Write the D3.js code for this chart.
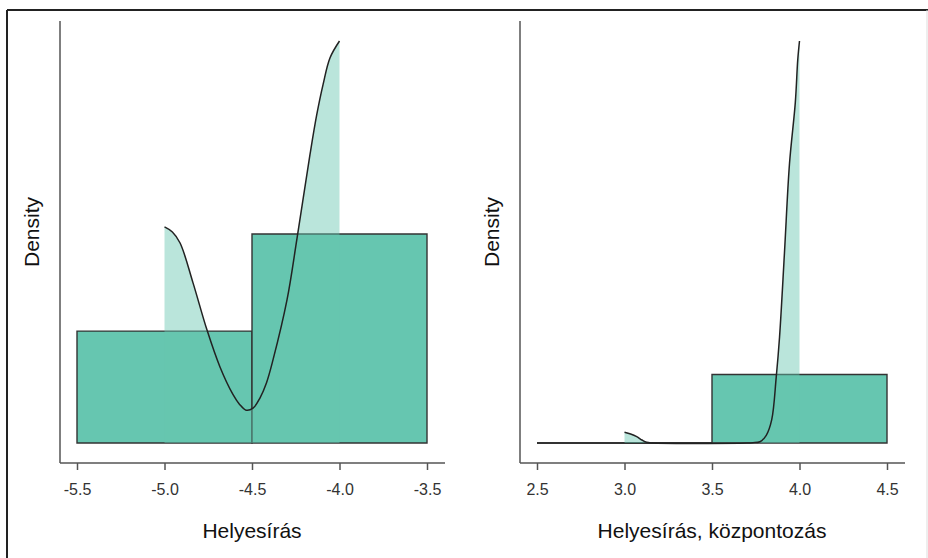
<!DOCTYPE html>
<html>
<head>
<meta charset="utf-8">
<script src="https://cdn.jsdelivr.net/npm/d3@7"></script>
<style>
  body { margin: 0; background: #fff; }
  svg { display: block; font-family: "Liberation Sans", Arial, sans-serif; }
</style>
</head>
<body>
<div id="chart-area"></div>
<script>
// data
const leftTicks = [-5.5, -5.0, -4.5, -4.0, -3.5]
const leftBinEdges = [-5.5, -4.5, -3.5]
const leftHist = [0.334, 0.624]
const leftCurveX = [-5.0, -4.955, -4.911, -4.837, -4.757, -4.683, -4.609, -4.572, -4.534, -4.494, -4.454, -4.417, -4.38, -4.3, -4.243, -4.169, -4.13, -4.094, -4.054, -4.0]
const leftCurveY = [0.645, 0.63, 0.597, 0.478, 0.337, 0.227, 0.145, 0.116, 0.098, 0.104, 0.135, 0.18, 0.248, 0.427, 0.61, 0.86, 0.98, 1.07, 1.15, 1.2]

const rightTicks = [2.5, 3.0, 3.5, 4.0, 4.5]
const rightBinEdges = [2.5, 3.5, 4.5]
const rightHist = [0, 0.8]
const rightCurveX = [3.0, 3.035, 3.07, 3.1, 3.126, 3.16, 3.7, 3.734, 3.774, 3.81, 3.841, 3.867, 3.886, 3.914, 3.943, 3.976, 3.99, 4.0]
const rightCurveY = [0.125, 0.105, 0.074, 0.035, 0.008, 0, 0, 0.004, 0.015, 0.09, 0.27, 0.77, 1.24, 2.22, 3.27, 3.98, 4.48, 4.7]

const W = 928, H = 558
const FILL = "#66c6b0"
const BASE = 443, PEAK = 41
const AXIS_TOP = 21, AXIS_Y = 463

const svg = d3.select("#chart-area").append("svg")
  .attr("width", W)
  .attr("height", H)

// outer frame
svg.append("line").attr("x1", 7).attr("x2", W).attr("y1", 10).attr("y2", 10)
  .attr("stroke", "#222").attr("stroke-width", 2)
svg.append("line").attr("x1", 7).attr("x2", 7).attr("y1", 10).attr("y2", H)
  .attr("stroke", "#222").attr("stroke-width", 2)
svg.append("line").attr("x1", 927).attr("x2", 927).attr("y1", 10).attr("y2", H)
  .attr("stroke", "#ddd").attr("stroke-width", 1)

const smooth = d3.curveCatmullRom.alpha(0.5)

function drawPanel(p) {
  const x = d3.scaleLinear()
    .domain([p.ticks[0], p.ticks[p.ticks.length - 1]])
    .range([p.x0, p.x1])
  const y = d3.scaleLinear()
    .domain([0, d3.max(p.curveY)])
    .range([BASE, PEAK])

  const g = svg.append("g")

  // histogram bars (as paths, so zero-height bins still show their outline)
  const bins = p.hist.map((v, i) => ({ a: p.edges[i], b: p.edges[i + 1], v: v }))
  g.selectAll("path.bar").data(bins).enter().append("path")
    .attr("class", "bar")
    .attr("d", d => `M${x(d.a)},${y(0)}V${y(d.v)}H${x(d.b)}V${y(0)}Z`)
    .attr("fill", FILL)
    .attr("stroke", "#333")
    .attr("stroke-width", d => d.v === 0 ? 2.2 : 1.4)

  const pts = p.curveX.map((v, i) => [v, p.curveY[i]])

  // density area
  g.append("path")
    .datum(pts)
    .attr("d", d3.area().x(d => x(d[0])).y0(y(0)).y1(d => Math.min(y(0), y(d[1]))).curve(smooth))
    .attr("fill", FILL)
    .attr("fill-opacity", 0.45)

  // density line
  g.append("path")
    .datum(pts)
    .attr("d", d3.line().x(d => x(d[0])).y(d => y(d[1])).curve(smooth))
    .attr("fill", "none")
    .attr("stroke", "#222")
    .attr("stroke-width", 1.5)

  // y axis line
  g.append("line")
    .attr("x1", p.axisX).attr("x2", p.axisX)
    .attr("y1", AXIS_TOP).attr("y2", AXIS_Y)
    .attr("stroke", "#555").attr("stroke-width", 1.5)

  // x axis
  const xAxisCall = d3.axisBottom(x)
    .tickValues(p.ticks)
    .tickFormat(d => d.toFixed(1))
    .tickSize(7)
    .tickPadding(14)
  const ax = g.append("g")
    .attr("transform", `translate(0, ${AXIS_Y})`)
    .call(xAxisCall)
  ax.select(".domain").remove()
  ax.selectAll(".tick line").attr("stroke", "#555").attr("stroke-width", 1.5)
  ax.selectAll(".tick text")
    .attr("fill", "#333")
    .attr("font-size", "16px")
    .attr("font-family", "Liberation Sans, Arial, sans-serif")
  g.append("line")
    .attr("x1", p.axisX).attr("x2", p.axisEnd)
    .attr("y1", AXIS_Y).attr("y2", AXIS_Y)
    .attr("stroke", "#555").attr("stroke-width", 1.5)

  // labels
  g.append("text")
    .attr("x", (p.x0 + p.x1) / 2)
    .attr("y", 538)
    .attr("text-anchor", "middle")
    .attr("font-size", "21px")
    .attr("fill", "#111")
    .text(p.title)

  g.append("text")
    .attr("transform", `translate(${p.axisX - 21}, 232) rotate(-90)`)
    .attr("text-anchor", "middle")
    .attr("font-size", "21px")
    .attr("fill", "#111")
    .text("Density")
}

drawPanel({
  ticks: leftTicks, edges: leftBinEdges, hist: leftHist,
  curveX: leftCurveX, curveY: leftCurveY,
  x0: 77, x1: 427, axisX: 60, axisEnd: 445,
  title: "Helyesírás"
})

drawPanel({
  ticks: rightTicks, edges: rightBinEdges, hist: rightHist,
  curveX: rightCurveX, curveY: rightCurveY,
  x0: 537, x1: 887, axisX: 520, axisEnd: 905,
  title: "Helyesírás, központozás"
})
</script>
</body>
</html>
